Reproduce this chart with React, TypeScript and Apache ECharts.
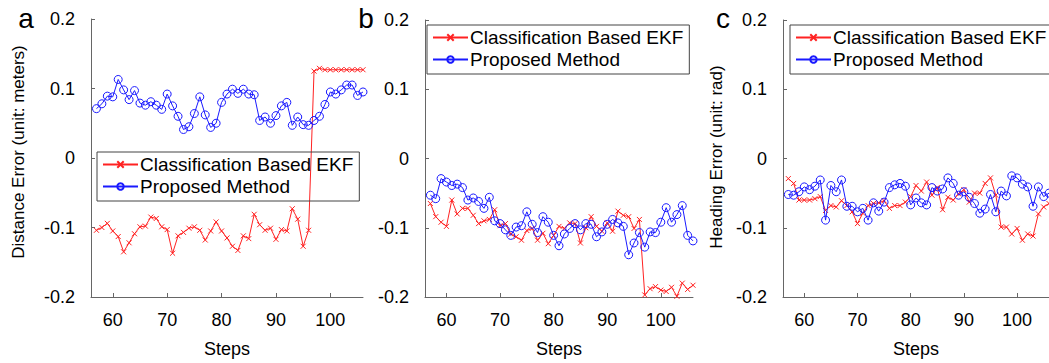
import React, { useEffect, useRef } from "react";
import * as echarts from "echarts";

const steps = [
  57, 58, 59, 60, 61, 62, 63, 64, 65, 66, 67, 68, 69, 70, 71, 72, 73, 74, 75, 76,
  77, 78, 79, 80, 81, 82, 83, 84, 85, 86, 87, 88, 89, 90, 91, 92, 93, 94, 95, 96,
  97, 98, 99, 100, 101, 102, 103, 104, 105, 106,
];
const xTicks = [60, 70, 80, 90, 100];
const seriesNames = ["Classification Based EKF", "Proposed Method"];

// Panel a: distance error (m)
const aEKF = [
  -0.104, -0.1, -0.094, -0.105, -0.113, -0.135, -0.122, -0.109, -0.099, -0.098,
  -0.085, -0.087, -0.099, -0.103, -0.137, -0.112, -0.107, -0.101, -0.099, -0.104,
  -0.118, -0.105, -0.092, -0.105, -0.115, -0.127, -0.133, -0.112, -0.116, -0.081,
  -0.096, -0.104, -0.101, -0.117, -0.103, -0.105, -0.073, -0.088, -0.127, -0.104,
  0.125, 0.129, 0.127, 0.127, 0.127, 0.127, 0.127, 0.127, 0.127, 0.127,
];
const aProp = [
  0.071, 0.078, 0.089, 0.088, 0.113, 0.098, 0.084, 0.097, 0.079, 0.076,
  0.081, 0.076, 0.07, 0.092, 0.075, 0.06, 0.041, 0.045, 0.064, 0.088,
  0.062, 0.044, 0.05, 0.08, 0.092, 0.099, 0.093, 0.099, 0.092, 0.091,
  0.054, 0.059, 0.05, 0.061, 0.075, 0.08, 0.047, 0.059, 0.048, 0.047,
  0.054, 0.06, 0.077, 0.095, 0.092, 0.098, 0.105, 0.105, 0.09, 0.095,
];
// Panel b
const bEKF = [
  -0.065, -0.084, -0.092, -0.098, -0.06, -0.08, -0.072, -0.072, -0.082, -0.094,
  -0.09, -0.088, -0.074, -0.097, -0.094, -0.109, -0.113, -0.118, -0.104, -0.101,
  -0.118, -0.108, -0.123, -0.111, -0.098, -0.101, -0.093, -0.094, -0.122, -0.1,
  -0.084, -0.098, -0.105, -0.093, -0.105, -0.076, -0.082, -0.084, -0.101, -0.088,
  -0.197, -0.188, -0.185, -0.19, -0.192, -0.186, -0.199, -0.18, -0.189, -0.183,
];
const bProp = [
  -0.053, -0.058, -0.029, -0.034, -0.039, -0.037, -0.042, -0.06, -0.057, -0.062,
  -0.072, -0.056, -0.09, -0.094, -0.103, -0.111, -0.099, -0.097, -0.077, -0.095,
  -0.107, -0.084, -0.092, -0.111, -0.126, -0.109, -0.101, -0.094, -0.103, -0.094,
  -0.095, -0.113, -0.106, -0.095, -0.088, -0.093, -0.098, -0.139, -0.122, -0.107,
  -0.128, -0.106, -0.107, -0.092, -0.071, -0.092, -0.081, -0.068, -0.111, -0.119,
];
// Panel c: heading error (rad)
const cEKF = [
  -0.029, -0.036, -0.06, -0.06, -0.06, -0.058, -0.055, -0.075, -0.068, -0.07,
  -0.061, -0.068, -0.077, -0.094, -0.079, -0.068, -0.065, -0.064, -0.061, -0.072,
  -0.068, -0.068, -0.063, -0.055, -0.039, -0.047, -0.034, -0.053, -0.042, -0.074,
  -0.056, -0.06, -0.051, -0.045, -0.063, -0.05, -0.05, -0.036, -0.028, -0.053,
  -0.099, -0.099, -0.109, -0.101, -0.118, -0.109, -0.112, -0.08, -0.07, -0.065,
];
const cProp = [
  -0.052, -0.053, -0.048, -0.041, -0.045, -0.04, -0.031, -0.089, -0.039, -0.048,
  -0.031, -0.069, -0.069, -0.077, -0.072, -0.089, -0.064, -0.076, -0.063, -0.042,
  -0.038, -0.036, -0.04, -0.067, -0.057, -0.064, -0.067, -0.042, -0.047, -0.044,
  -0.028, -0.036, -0.053, -0.048, -0.056, -0.065, -0.079, -0.073, -0.052, -0.077,
  -0.047, -0.054, -0.025, -0.028, -0.037, -0.041, -0.069, -0.041, -0.055, -0.05,
];

const FONT = "Liberation Sans, Arial, sans-serif";
const RED = "#ff2222";
const BLUE = "#1a1aff";
const AXIS = "#666666";

const panels = [
  { ekf: aEKF, prop: aProp, grid: { left: 91, top: 19, width: 272, height: 278 }, legend: { left: 97, top: 152 } },
  { ekf: bEKF, prop: bProp, grid: { left: 425, top: 20, width: 268, height: 277 }, legend: { left: 427, top: 25 } },
  { ekf: cEKF, prop: cProp, grid: { left: 783, top: 20, width: 272, height: 277 }, legend: { left: 790, top: 25 } },
];

export default function App() {
  const ref = useRef<HTMLDivElement>(null);
  useEffect(() => {
    if (!ref.current) return;
    const chart = echarts.init(ref.current, null, { renderer: "svg" });
    const toPairs = (ys: number[]) => steps.map((s, i) => [s, ys[i]]);
    const option: any = {
      animation: false,
      backgroundColor: "#ffffff",
      textStyle: { fontFamily: FONT },
      grid: panels.map((p) => ({ ...p.grid, containLabel: false })),
      legend: panels.map((p) => ({
        data: seriesNames,
        orient: "vertical",
        left: p.legend.left,
        top: p.legend.top,
        itemWidth: 35,
        itemHeight: 8,
        itemGap: 3,
        padding: [3, 6, 5, 5],
        borderColor: "#444",
        borderWidth: 1,
        borderRadius: 0,
        selectedMode: false,
        textStyle: { fontSize: 19, color: "#000", fontFamily: FONT, padding: [0, 0, 0, -3] },
      })),
      xAxis: panels.map((_, i) => ({
        type: "value",
        gridIndex: i,
        min: 56,
        max: 106,
        name: "Steps",
        nameLocation: "middle",
        nameGap: 43,
        nameTextStyle: { fontSize: 18, color: "#000", fontFamily: FONT },
        axisLine: { onZero: false, lineStyle: { color: AXIS, width: 1 } },
        axisTick: { inside: true, length: 4, customValues: xTicks, lineStyle: { color: AXIS } },
        axisLabel: { customValues: xTicks, fontSize: 18, color: "#000", margin: 14, fontFamily: FONT },
        splitLine: { show: false },
      })),
      yAxis: panels.map((_, i) => ({
        type: "value",
        gridIndex: i,
        min: -0.2,
        max: 0.2,
        interval: 0.1,
        axisLine: { show: true, onZero: false, lineStyle: { color: AXIS, width: 1 } },
        axisTick: { show: true, inside: true, length: 4, lineStyle: { color: AXIS } },
        axisLabel: {
          fontSize: 18,
          color: "#000",
          margin: 16,
          fontFamily: FONT,
          formatter: (v: number) => {
            const r = Math.round(v * 10) / 10;
            return r === 0 ? "0" : r.toFixed(1);
          },
        },
        splitLine: { show: false },
      })),
      series: panels.flatMap((p, i) => [
        {
          name: seriesNames[0],
          type: "line",
          xAxisIndex: i,
          yAxisIndex: i,
          data: toPairs(p.ekf),
          symbol: "path://M0,0L10,10M10,0L0,10",
          symbolSize: 5,
          showAllSymbol: true,
          lineStyle: { color: RED, width: 1 },
          itemStyle: { color: RED, borderColor: RED, borderWidth: 1 },
          z: 2,
        },
        {
          name: seriesNames[1],
          type: "line",
          xAxisIndex: i,
          yAxisIndex: i,
          data: toPairs(p.prop),
          symbol: "circle",
          symbolSize: 8,
          showAllSymbol: true,
          lineStyle: { color: BLUE, width: 1 },
          itemStyle: { color: "rgba(255,255,255,0)", borderColor: BLUE, borderWidth: 1 },
          z: 3,
        },
      ]),
      graphic: [
        { type: "text", x: 26, y: 18, style: { text: "a", fontSize: 28, fontFamily: FONT, fill: "#000", textAlign: "center", textVerticalAlign: "middle" } },
        { type: "text", x: 366, y: 18, style: { text: "b", fontSize: 28, fontFamily: FONT, fill: "#000", textAlign: "center", textVerticalAlign: "middle" } },
        { type: "text", x: 723, y: 18, style: { text: "c", fontSize: 28, fontFamily: FONT, fill: "#000", textAlign: "center", textVerticalAlign: "middle" } },
        { type: "text", x: 18, y: 152, rotation: Math.PI / 2, style: { text: "Distance Error (unit: meters)", fontSize: 17, fontFamily: FONT, fill: "#000", textAlign: "center", textVerticalAlign: "middle" } },
        { type: "text", x: 716, y: 157, rotation: Math.PI / 2, style: { text: "Heading Error (unit: rad)", fontSize: 17, fontFamily: FONT, fill: "#000", textAlign: "center", textVerticalAlign: "middle" } },
      ],
    };
    chart.setOption(option);
    return () => chart.dispose();
  }, []);
  return (
    <div
      ref={ref}
      style={{ position: "absolute", left: 0, top: 0, width: 1049, height: 363, overflow: "hidden" }}
    />
  );
}
